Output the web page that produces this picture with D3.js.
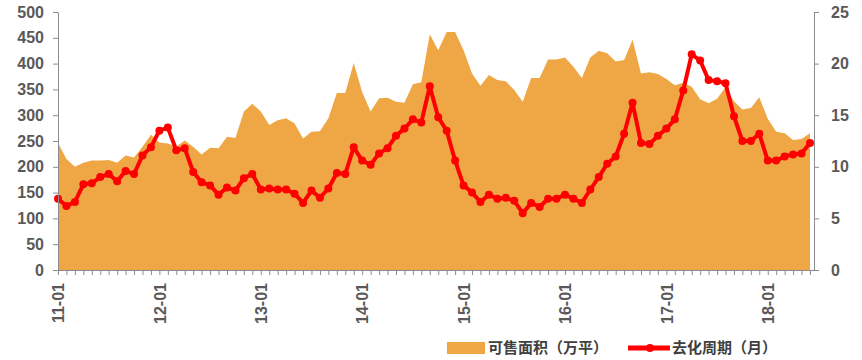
<!DOCTYPE html>
<html>
<head>
<meta charset="utf-8">
<script src="https://cdn.jsdelivr.net/npm/d3@7/dist/d3.min.js"></script>
<style>
  html, body { margin: 0; padding: 0; background: #fff; }
  svg { display: block; }
</style>
</head>
<body>
<svg id="chart" width="862" height="360"></svg>
<script>
// ---- data ----
const years = ["11", "12", "13", "14", "15", "16", "17", "18"];
const monthNums = ["01","02","03","04","05","06","07","08","09","10","11","12"];
const categories = [];
years.forEach(y => monthNums.forEach(m => { if (categories.length < 90) categories.push(y + "-" + m); }));

const tickLabels = ["11-01", "12-01", "13-01", "14-01", "15-01", "16-01", "17-01", "18-01"];

// 可售面积（万平） – left axis
const saleArea = [
  246, 215, 200, 208, 212, 212, 213, 208, 222, 218, 239, 262,
  247, 245, 239, 251, 239, 224, 237, 236, 258, 256, 307, 322,
  307, 281, 290, 294, 284, 255, 268, 269, 294, 343, 343, 401,
  345, 307, 333, 334, 326, 324, 360, 364, 457, 426, 461, 461,
  426, 381, 357, 378, 368, 366, 349, 326, 372, 372, 408, 408,
  412, 394, 372, 412, 425, 420, 404, 407, 446, 381, 383, 380,
  370, 358, 363, 355, 331, 323, 332, 354, 327, 311, 314, 335,
  293, 268, 265, 252, 254, 265
];

// 去化周期（月） – right axis
const cycle = [
  6.9, 6.2, 6.6, 8.3, 8.4, 9.0, 9.3, 8.6, 9.6, 9.3, 11.1, 11.9,
  13.5, 13.8, 11.6, 11.8, 9.5, 8.5, 8.2, 7.3, 8.0, 7.7, 8.9, 9.3,
  7.8, 7.9, 7.8, 7.8, 7.4, 6.5, 7.7, 7.0, 7.9, 9.4, 9.3, 11.9,
  10.6, 10.2, 11.3, 11.8, 13.0, 13.7, 14.6, 14.3, 17.8, 14.8, 13.5, 10.6,
  8.2, 7.5, 6.6, 7.3, 6.9, 7.0, 6.7, 5.5, 6.5, 6.1, 6.9, 6.9,
  7.3, 6.9, 6.5, 7.8, 9.0, 10.3, 11.0, 13.2, 16.2, 12.3, 12.2, 13.0,
  13.7, 14.6, 17.4, 20.9, 20.3, 18.4, 18.3, 18.1, 14.9, 12.5, 12.5, 13.2,
  10.6, 10.6, 11.0, 11.2, 11.3, 12.3
];

const leftTicks = [0, 50, 100, 150, 200, 250, 300, 350, 400, 450, 500];
const rightTicks = [0, 5, 10, 15, 20, 25];
const legendLabels = ["可售面积（万平）", "去化周期（月）"];

// ---- layout ----
const svg = d3.select("#chart");
const plotLeft = 58, plotRight = 814, plotTop = 12, plotBottom = 270;
const areaColor = "#EFA745";
const lineColor = "#FF0000";
const axisColor = "#8C8C8C";
const textColor = "#595959";

const x = d3.scalePoint().domain(categories).range([plotLeft, 810]);
const yL = d3.scaleLinear().domain([0, 500]).range([plotBottom, plotTop]);
const yR = d3.scaleLinear().domain([0, 25]).range([plotBottom, plotTop]);

// area
const area = d3.area()
  .x((d, i) => x(categories[i]))
  .y0(plotBottom)
  .y1(d => yL(d));
svg.append("path").datum(saleArea)
  .attr("d", area)
  .attr("fill", areaColor);

// line
const line = d3.line()
  .x((d, i) => x(categories[i]))
  .y(d => yR(d));
svg.append("path").datum(cycle)
  .attr("d", line)
  .attr("fill", "none")
  .attr("stroke", lineColor)
  .attr("stroke-width", 4)
  .attr("stroke-linejoin", "round");
svg.append("g").selectAll("circle").data(cycle).join("circle")
  .attr("cx", (d, i) => x(categories[i]))
  .attr("cy", d => yR(d))
  .attr("r", 4)
  .attr("fill", lineColor);

// axes
const numFont = "'Liberation Sans', Arial, sans-serif";

const gL = svg.append("g").attr("transform", `translate(${plotLeft},0)`)
  .call(d3.axisLeft(yL).tickValues(leftTicks).tickSize(5).tickPadding(9).tickSizeOuter(0));
const gR = svg.append("g").attr("transform", `translate(${plotRight},0)`)
  .call(d3.axisRight(yR).tickValues(rightTicks).tickSize(5).tickPadding(12).tickSizeOuter(0));
[gL, gR].forEach(g => {
  g.select(".domain").attr("stroke", axisColor);
  g.selectAll(".tick line").attr("stroke", axisColor);
  g.selectAll(".tick text")
    .attr("fill", textColor)
    .style("font-family", numFont)
    .style("font-size", "16px")
    .style("font-weight", "bold");
});

// bottom axis with monthly ticks
const gB = svg.append("g").attr("transform", `translate(0,${plotBottom})`)
  .call(d3.axisBottom(x).tickSize(5).tickSizeOuter(0).tickFormat(d => tickLabels.includes(d) ? d : ""));
gB.select(".domain").attr("d", `M${plotLeft},0.5H${plotRight}`).attr("stroke", axisColor);
gB.selectAll(".tick line").attr("stroke", axisColor);
gB.selectAll(".tick text")
  .attr("fill", textColor)
  .style("font-family", numFont)
  .style("font-size", "16px")
  .style("font-weight", "bold")
  .attr("text-anchor", "end")
  .attr("transform", "rotate(-90)")
  .attr("x", -13)
  .attr("y", 0)
  .attr("dy", "0.36em");

// legend
const legendFont = "'Noto Sans CJK SC', sans-serif";
const lg = svg.append("g");
lg.append("rect").attr("x", 447).attr("y", 342).attr("width", 38).attr("height", 12).attr("fill", areaColor);
lg.append("text").attr("x", 488).attr("y", 348).attr("dy", "0.36em")
  .attr("fill", "#404040").style("font-family", legendFont).style("font-size", "15px").style("font-weight", "bold")
  .text(legendLabels[0]);
lg.append("line").attr("x1", 628).attr("x2", 670).attr("y1", 348).attr("y2", 348)
  .attr("stroke", lineColor).attr("stroke-width", 5);
lg.append("circle").attr("cx", 650).attr("cy", 348).attr("r", 4).attr("fill", lineColor);
lg.append("text").attr("x", 672).attr("y", 348).attr("dy", "0.36em")
  .attr("fill", "#404040").style("font-family", legendFont).style("font-size", "15px").style("font-weight", "bold")
  .text(legendLabels[1]);
</script>
</body>
</html>
